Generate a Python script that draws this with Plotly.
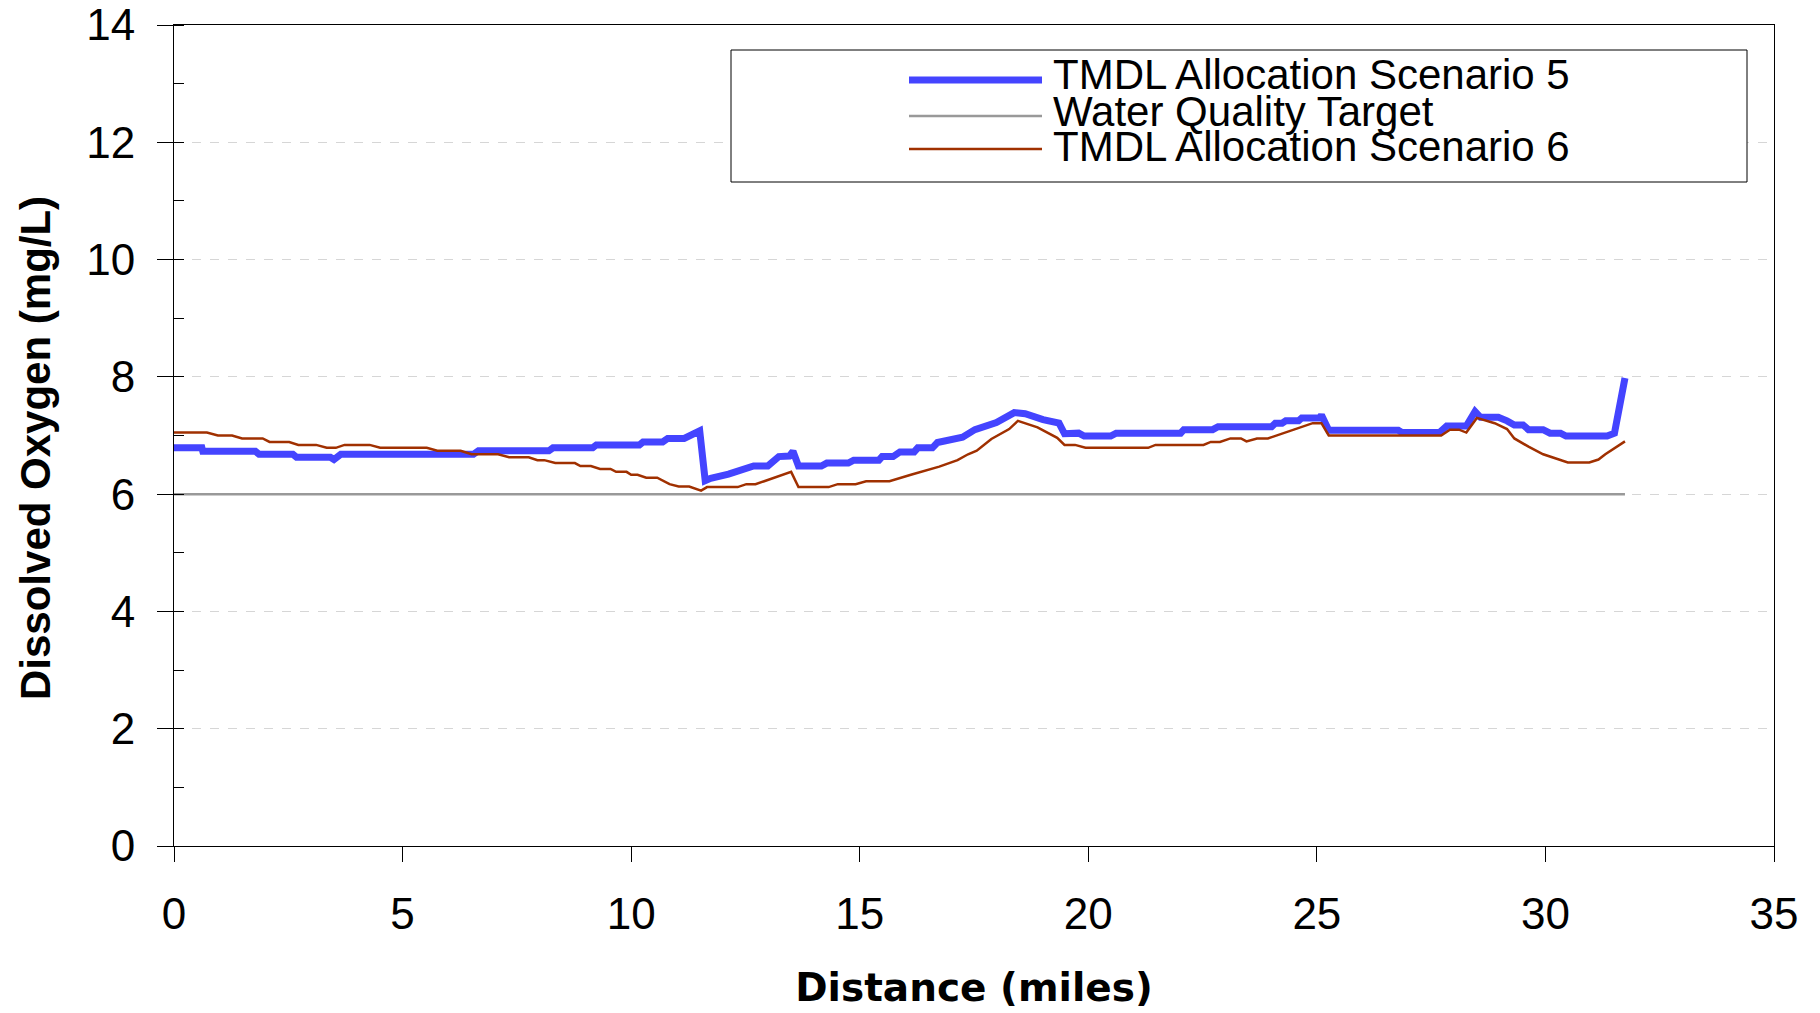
import plotly.graph_objects as go

# ---------------- data ----------------
s5_x = [0, 0.61, 0.63, 1.78, 1.86, 2.6, 2.68, 3.42, 3.5, 3.65, 6.55, 6.66, 8.2, 8.29, 9.16,
        9.24, 10.18, 10.26, 10.69, 10.8, 11.16, 11.3, 11.5, 11.62, 11.74, 12.13, 12.52, 12.68,
        12.99, 13.23, 13.46, 13.54, 13.66, 14.16, 14.28, 14.75, 14.87, 15.42, 15.49, 15.73,
        15.88, 16.19, 16.27, 16.59, 16.7, 17.0, 17.25, 17.52, 17.99, 18.38, 18.62, 19.01,
        19.36, 19.48, 19.79, 19.91, 20.49, 20.61, 22.02, 22.09, 22.72, 22.84, 24.01, 24.09,
        24.24, 24.32, 24.6, 24.67, 25.06, 25.1, 25.26, 26.78, 26.86, 27.68, 27.84, 28.27,
        28.46, 28.58, 28.97, 29.16, 29.32, 29.51, 29.63, 29.95, 30.1, 30.33, 30.45, 31.35,
        31.51, 31.74]
s5_y = [6.79, 6.79, 6.73, 6.73, 6.68, 6.68, 6.63, 6.63, 6.59, 6.68, 6.68, 6.74, 6.74, 6.79, 6.79,
        6.84, 6.84, 6.89, 6.89, 6.95, 6.95, 7.01, 7.08, 6.23, 6.27, 6.34, 6.42, 6.48,
        6.48, 6.64, 6.65, 6.73, 6.48, 6.48, 6.53, 6.53, 6.58, 6.58, 6.64, 6.64,
        6.72, 6.72, 6.79, 6.79, 6.88, 6.92, 6.97, 7.10, 7.22, 7.39, 7.37, 7.27,
        7.21, 7.03, 7.04, 6.99, 6.99, 7.04, 7.04, 7.10, 7.10, 7.15, 7.15, 7.21,
        7.21, 7.25, 7.25, 7.30, 7.30, 7.35, 7.09, 7.09, 7.05, 7.05, 7.16, 7.16,
        7.41, 7.31, 7.31, 7.25, 7.18, 7.18, 7.10, 7.10, 7.04, 7.04, 6.99, 6.99,
        7.04, 7.98]

s6_x = [0, 0.72, 0.96, 1.27, 1.49, 1.94, 2.09, 2.52, 2.72, 3.11, 3.34, 3.54, 3.73, 4.28, 4.51,
        5.53, 5.76, 6.27, 6.51, 7.09, 7.33, 7.76, 7.95, 8.1, 8.34, 8.77, 8.89, 9.12, 9.32,
        9.55, 9.67, 9.9, 10.0, 10.14, 10.33, 10.57, 10.84, 11.04, 11.27, 11.53, 11.66, 12.33,
        12.52, 12.72, 12.91, 13.15, 13.5, 13.66, 14.32, 14.52, 14.91, 15.14, 15.65, 16.12,
        16.59, 16.74, 17.14, 17.37, 17.56, 17.88, 18.27, 18.46, 18.89, 19.32, 19.48, 19.71,
        19.94, 21.31, 21.47, 22.52, 22.68, 22.88, 23.11, 23.34, 23.46, 23.69, 23.93, 24.32,
        24.59, 24.79, 24.91, 25.1, 25.26, 27.72, 27.91, 28.11, 28.27, 28.5, 28.89, 29.16,
        29.32, 29.63, 29.95, 30.18, 30.49, 30.96, 31.16, 31.31, 31.74]
s6_y = [7.05, 7.05, 7.0, 7.0, 6.95, 6.95, 6.89, 6.89, 6.84, 6.84, 6.79, 6.79, 6.84, 6.84, 6.79,
        6.79, 6.74, 6.74, 6.68, 6.68, 6.63, 6.63, 6.58, 6.58, 6.53, 6.53, 6.48, 6.48, 6.43,
        6.43, 6.38, 6.38, 6.33, 6.33, 6.28, 6.28, 6.17, 6.13, 6.13, 6.06, 6.12, 6.12,
        6.17, 6.17, 6.22, 6.29, 6.38, 6.12, 6.12, 6.17, 6.17, 6.22, 6.22, 6.33,
        6.43, 6.47, 6.58, 6.68, 6.74, 6.94, 7.11, 7.25, 7.14, 6.96, 6.84, 6.84,
        6.79, 6.79, 6.84, 6.84, 6.89, 6.89, 6.95, 6.95, 6.90, 6.95, 6.95, 7.05,
        7.13, 7.17, 7.21, 7.21, 7.0, 7.0, 7.10, 7.10, 7.05, 7.30, 7.21, 7.11,
        6.95, 6.81, 6.68, 6.62, 6.54, 6.54, 6.59, 6.68, 6.90]

target_x = [0, 31.74]
target_y = [6, 6]

names = ["TMDL Allocation Scenario 5", "Water Quality Target", "TMDL Allocation Scenario 6"]
colors = ["#4444ff", "#999999", "#a03000"]
widths = [7, 2.5, 2.5]

x_ticks = [0, 5, 10, 15, 20, 25, 30, 35]
y_ticks = [0, 2, 4, 6, 8, 10, 12, 14]

# ---------------- figure ----------------
W, H = 1820, 1013
L, R, T, B = 174, 46, 25, 167
pw, ph = W - L - R, H - T - B

fig = go.Figure()
fig.add_trace(go.Scatter(x=target_x, y=target_y, mode="lines", name=names[1],
                         line=dict(color=colors[1], width=widths[1]), showlegend=False))
fig.add_trace(go.Scatter(x=s5_x, y=s5_y, mode="lines", name=names[0],
                         line=dict(color=colors[0], width=widths[0]), showlegend=False))
fig.add_trace(go.Scatter(x=s6_x, y=s6_y, mode="lines", name=names[2],
                         line=dict(color=colors[2], width=widths[2]), showlegend=False))

fig.update_xaxes(range=[0, 35], tickvals=x_ticks, ticktext=[str(v) for v in x_ticks],
                 ticks="outside", ticklen=15, tickcolor="black", tickwidth=1,
                 showline=True, linecolor="black", linewidth=1, mirror=True,
                 showgrid=False, zeroline=False, ticklabelstandoff=14,
                 ticklabeloverflow="allow",
                 tickfont=dict(family="Liberation Sans", size=44, color="black"),
                 title=dict(text="Distance (miles)", standoff=36,
                            font=dict(family="DejaVu Sans", size=39, color="black", weight="bold")))
fig.update_yaxes(range=[0, 14], tickvals=y_ticks, ticktext=[str(v) for v in y_ticks],
                 ticks="outside", ticklen=16, tickcolor="black", tickwidth=1,
                 minor=dict(dtick=1, tick0=0, ticks="inside", ticklen=10, tickcolor="black",
                            showgrid=False),
                 showline=True, linecolor="black", linewidth=1, mirror=True,
                 showgrid=True, gridcolor="#d6d6d6", gridwidth=1, griddash="dash",
                 zeroline=False, ticklabelstandoff=13, ticklabeloverflow="allow",
                 tickfont=dict(family="Liberation Sans", size=44, color="black"))

# ---- page-pixel positions converted to paper coordinates ----
def px(xp):
    return (xp - L) / pw

def py(yp):
    return (H - B - yp) / ph

annotations = [dict(text="Dissolved Oxygen (mg/L)", xref="paper", yref="paper",
                    x=px(36), y=py(448), xanchor="center", yanchor="middle",
                    textangle=-90, showarrow=False,
                    font=dict(family="Liberation Sans", size=42, color="black", weight="bold"))]

# ---- custom legend ----
shapes = [dict(type="rect", xref="paper", yref="paper", x0=px(731), x1=px(1747),
               y0=py(182), y1=py(50), line=dict(color="black", width=1), fillcolor="white",
               layer="above")]
line_rows = [80, 116, 149]
text_rows = [75, 111, 146]
for i in range(3):
    shapes.append(dict(type="line", xref="paper", yref="paper", x0=px(909), x1=px(1042),
                       y0=py(line_rows[i]), y1=py(line_rows[i]),
                       line=dict(color=colors[i], width=widths[i]), layer="above"))
    annotations.append(dict(text=names[i], xref="paper", yref="paper", x=px(1051),
                            y=py(text_rows[i]), xanchor="left", yanchor="middle",
                            showarrow=False,
                            font=dict(family="Liberation Sans", size=42, color="black")))

fig.update_layout(width=W, height=H, margin=dict(l=L, r=R, t=T, b=B, autoexpand=False),
                  paper_bgcolor="white", plot_bgcolor="white",
                  shapes=shapes, annotations=annotations, showlegend=False)

fig.write_html("out.html", config={"displayModeBar": False},
               post_script="document.body.style.margin='0px';document.body.style.overflow='hidden';")
